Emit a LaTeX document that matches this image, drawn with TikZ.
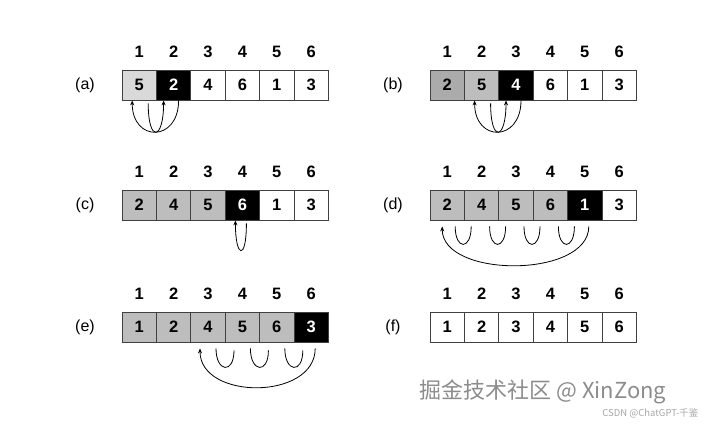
\documentclass[tikz,border=0pt]{standalone}
\usepackage{fontspec}
\setmainfont{Liberation Sans}
\newfontfamily\cjk{Noto Sans CJK SC}
\usetikzlibrary{arrows.meta}
\definecolor{lg}{HTML}{D9D9D9}
\definecolor{mg}{HTML}{BDBDBD}
\definecolor{dg}{HTML}{ABABAB}
\tikzset{x=1pt,y=-1pt,
 cell/.style={draw=black!75,line width=0.8pt,minimum width=34.4pt,minimum height=30pt,inner sep=0pt,font=\fontsize{16.5}{19}\selectfont\bfseries},
 idx/.style={font=\fontsize{16.5}{19}\selectfont\bfseries},
 lab/.style={font=\fontsize{16}{19}\selectfont},
 arc/.style={line width=0.8pt,-{Stealth[length=5pt,width=4pt]}},
 uarc/.style={line width=0.8pt}}
\newcommand{\myrow}[5]{% name, x0, y, label, list value/fill/text
 \node[lab] (#1lab) at (#2-37,#3) {(#1)};
 \foreach \v/\f/\t [count=\i] in {#4} {
  \node[cell,fill=\f,text=\t] (#1\i) at (#2+17.2+34.4*\i-34.4,#3) {\v};
  \node[idx] (#1i\i) at (#2+17.2+34.4*\i-34.4,#3-33) {\i};
 }}
\begin{document}
\begin{tikzpicture}
\useasboundingbox (0,0) rectangle (712,425);
\myrow{a}{122}{85}{5/lg/black,2/black/white,4/white/black,6/white/black,1/white/black,3/white/black}{}
\myrow{b}{430}{85}{2/dg/black,5/mg/black,4/black/white,6/white/black,1/white/black,3/white/black}{}
\myrow{c}{122}{205}{2/mg/black,4/mg/black,5/mg/black,6/black/white,1/white/black,3/white/black}{}
\myrow{d}{430}{205}{2/mg/black,4/mg/black,5/mg/black,6/mg/black,1/black/white,3/white/black}{}
\myrow{e}{122}{327}{1/mg/black,2/mg/black,4/mg/black,5/mg/black,6/mg/black,3/black/white}{}
\myrow{f}{430}{327}{1/white/black,2/white/black,3/white/black,4/white/black,5/white/black,6/white/black}{}
% (a)
\draw[arc] ([xshift=5pt]a2.south) .. controls +(0,42) and +(0,42) .. ([xshift=-7pt]a1.south);
\draw[arc] ([xshift=9pt,yshift=-3pt]a1.south) .. controls +(0,40) and +(0,40) .. ([xshift=-10pt]a2.south);
% (b)
\draw[arc] ([xshift=5pt]b3.south) .. controls +(0,42) and +(0,42) .. ([xshift=-7pt]b2.south);
\draw[arc] ([xshift=9pt,yshift=-3pt]b2.south) .. controls +(0,40) and +(0,40) .. ([xshift=-10pt]b3.south);
% (c)
\draw[arc] ([xshift=4pt,yshift=-3pt]c4.south) .. controls +(0,38) and +(0,38) .. ([xshift=-7pt]c4.south);
% (d)
\foreach \i in {1,2,3,4}{
 \draw[uarc] ([xshift=8pt,yshift=-6pt]d\i.south) .. controls +(0,24) and +(0,24) .. ([xshift=24pt,yshift=-6pt]d\i.south);}
\draw[arc] ([xshift=4pt,yshift=-6pt]d5.south) .. controls +(0,52) and +(0,52) .. ([xshift=-5pt,yshift=-6pt]d1.south);
% (e)
\foreach \i in {3,4,5}{
 \draw[uarc] ([xshift=8pt,yshift=-6pt]e\i.south) .. controls +(0,24) and +(0,24) .. ([xshift=26pt,yshift=-8pt]e\i.south);}
\draw[arc] ([xshift=4pt,yshift=-6pt]e6.south) .. controls +(0,52) and +(0,52) .. ([xshift=-8pt,yshift=-6pt]e3.south);
% watermark
\node[anchor=west,text=black!45,font=\cjk\fontsize{22}{26}\selectfont] (wm) at (416,392) {掘金技术社区 @ XinZong};
\node[anchor=east,text=black!35,font=\cjk\fontsize{9.5}{11}\selectfont] (wm2) at (702,413) {CSDN @ChatGPT-千鉴};
\end{tikzpicture}
\end{document}
